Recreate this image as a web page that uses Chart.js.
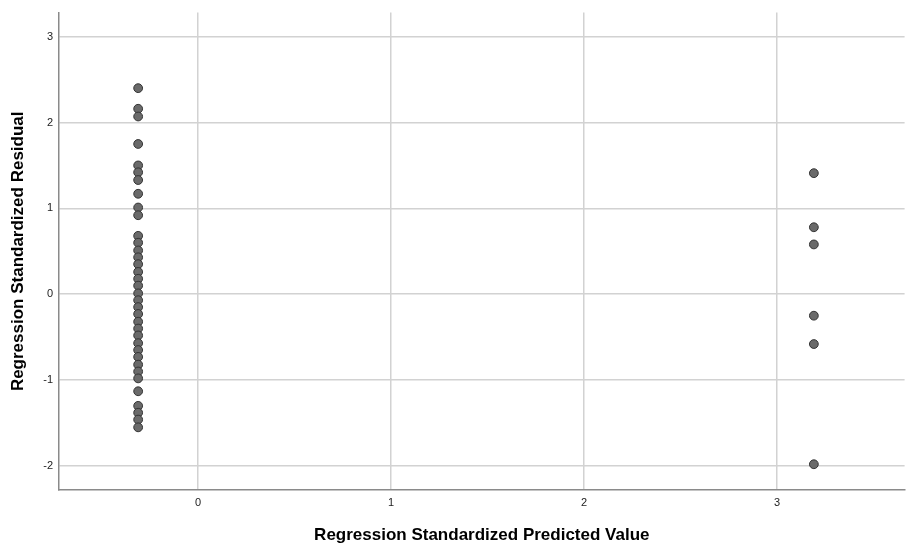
<!DOCTYPE html>
<html>
<head>
<meta charset="utf-8">
<title>Residual scatterplot</title>
<script src="https://cdn.jsdelivr.net/npm/chart.js@4"></script>
<style>
  html, body { margin: 0; padding: 0; background: #fff; }
  #wrap { width: 910px; height: 546px; position: relative; }
</style>
</head>
<body>
<div id="wrap"><canvas id="residualChart"></canvas></div>
<script>
// predicted value for each of the two groups
const predLow = -0.31;
const predHigh = 3.19;

// standardized residuals
const residualsLow = [
  2.40, 2.16, 2.07, 1.75, 1.50, 1.42, 1.33, 1.17, 1.01, 0.92,
  0.68, 0.60, 0.51, 0.43, 0.35, 0.26, 0.18, 0.10, 0.01, -0.07,
  -0.15, -0.23, -0.32, -0.40, -0.48, -0.57, -0.65, -0.73, -0.82, -0.90,
  -0.98, -1.13, -1.30, -1.38, -1.46, -1.55
];
const residualsHigh = [1.41, 0.78, 0.58, -0.25, -0.58, -1.98];

const xTicks = [0, 1, 2, 3];
const yTicks = [-2, -1, 0, 1, 2, 3];

const points = [
  ...residualsLow.map(r => ({ x: predLow, y: r })),
  ...residualsHigh.map(r => ({ x: predHigh, y: r }))
];

const tickFont = { family: 'Arial, "Liberation Sans", sans-serif', size: 11 };
const titleFont = { family: 'Arial, "Liberation Sans", sans-serif', size: 17, weight: 'bold' };

new Chart(document.getElementById('residualChart'), {
  type: 'scatter',
  data: {
    datasets: [{
      label: 'Residuals',
      data: points,
      backgroundColor: '#6a6a6a',
      borderColor: '#333333',
      borderWidth: 1,
      pointRadius: 4.4,
      pointHoverRadius: 4.4
    }]
  },
  options: {
    responsive: true,
    maintainAspectRatio: false,
    animation: false,
    layout: { padding: { top: 10, right: 0, left: 0, bottom: 0 } },
    plugins: {
      legend: { display: false },
      tooltip: { enabled: false }
    },
    scales: {
      x: {
        type: 'linear',
        min: -0.72,
        max: 3.66,
        afterBuildTicks: (scale) => { scale.ticks = xTicks.map(v => ({ value: v })); },
        afterFit: (scale) => { scale.height = 56; },
        grid: { color: '#d2d2d2', lineWidth: 1.5, drawTicks: false },
        border: { color: '#8a8a8a', width: 1.5 },
        ticks: { font: tickFont, color: '#222', padding: 6, maxRotation: 0 },
        title: {
          display: true,
          text: 'Regression Standardized Predicted Value',
          font: titleFont,
          color: '#000',
          padding: { top: 0, bottom: 0 }
        }
      },
      y: {
        type: 'linear',
        min: -2.28,
        max: 3.28,
        afterBuildTicks: (scale) => { scale.ticks = yTicks.map(v => ({ value: v })); },
        afterFit: (scale) => { scale.width = 59; },
        grid: { color: '#d2d2d2', lineWidth: 1.5, drawTicks: false },
        border: { color: '#8a8a8a', width: 1.5 },
        ticks: { font: tickFont, color: '#222', padding: 6 },
        title: {
          display: true,
          text: 'Regression Standardized Residual',
          font: titleFont,
          color: '#000',
          padding: { top: 8, bottom: 0 }
        }
      }
    }
  }
});
</script>
</body>
</html>
